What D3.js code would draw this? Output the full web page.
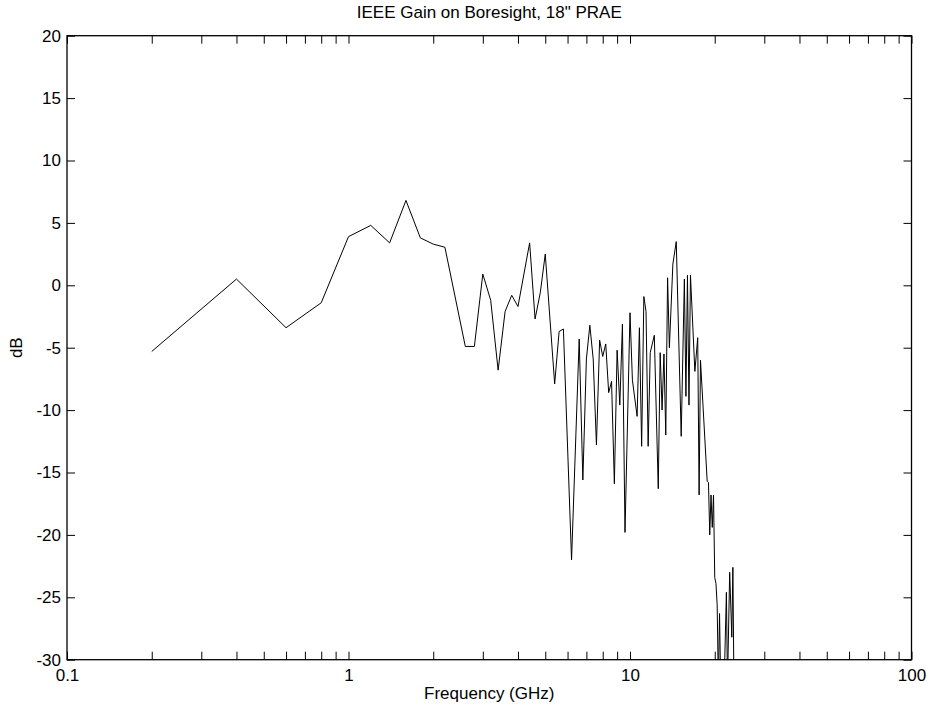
<!DOCTYPE html>
<html>
<head>
<meta charset="utf-8">
<script src="https://cdn.jsdelivr.net/npm/d3@7/dist/d3.min.js"></script>
<style>
  html, body { margin: 0; padding: 0; background: #fff; }
  svg { display: block; font-family: "Liberation Sans", Arial, Helvetica, sans-serif; }
</style>
</head>
<body>
<svg id="chart" width="931" height="715"></svg>
<script>
// Boresight gain measurement (frequency in GHz, gain in dB)
const freqGHz = [
  0.2, 0.4, 0.6, 0.8, 1.0, 1.2, 1.4, 1.6, 1.8, 2.0,
  2.2, 2.6, 2.8, 3.0, 3.2, 3.4, 3.6, 3.8, 4.0, 4.4,
  4.6, 4.8, 5.0, 5.4, 5.6, 5.8, 6.2, 6.6, 6.8, 7.0,
  7.2, 7.4, 7.6, 7.8, 8.0, 8.2, 8.4, 8.6, 8.8, 9.0,
  9.2, 9.4, 9.6, 10.0, 10.2, 10.6, 10.8, 11.0, 11.2, 11.4,
  11.6, 11.8, 12.2, 12.6, 12.8, 13.0, 13.2, 13.4, 13.6, 13.8,
  14.2, 14.6, 15.2, 15.6, 15.8, 16.0, 16.2, 16.4, 17.0, 17.4,
  17.6, 17.8, 18.8, 19.0, 19.2, 19.4, 19.6, 19.8, 20.0, 20.2,
  20.4, 20.6, 20.8, 21.0, 21.6, 22.0, 22.2, 22.6, 23.0, 23.2,
  23.4
];
const gainDb = [
  -5.3, 0.5, -3.4, -1.4, 3.9, 4.8, 3.4, 6.8, 3.8, 3.3,
  3.05, -4.9, -4.9, 0.9, -1.2, -6.8, -2.1, -0.8, -1.7, 3.4,
  -2.7, -0.6, 2.5, -7.9, -3.7, -3.5, -22.0, -4.3, -15.6, -5.9,
  -3.2, -5.9, -12.8, -4.4, -5.7, -4.7, -8.6, -7.7, -15.9, -5.2,
  -9.6, -3.1, -19.8, -2.2, -7.6, -10.5, -3.4, -12.9, -0.9, -2.1,
  -12.9, -5.4, -4.0, -16.3, -5.4, -10.0, -5.5, -12.0, 0.6, -5.0,
  1.7, 3.5, -12.1, 0.5, -8.9, 0.8, -9.6, 0.8, -6.9, -4.2,
  -16.8, -6.0, -15.7, -15.8, -20.0, -16.8, -19.4, -16.8, -23.4, -23.9,
  -25.6, -32.0, -26.3, -32.0, -32.0, -24.6, -32.0, -23.0, -28.2, -22.6,
  -32.0
];

// Axis definitions
const xDomain = [0.1, 100];
const yDomain = [-30, 20];
const yTickValues = [-30, -25, -20, -15, -10, -5, 0, 5, 10, 15, 20];
const xMajorTicks = [0.1, 1, 10, 100];
const xMajorLabels = ["0.1", "1", "10", "100"];

const titleText = "IEEE Gain on Boresight, 18\" PRAE";
const xLabelText = "Frequency (GHz)";
const yLabelText = "dB";

const W = 931, H = 715;
const margin = { top: 35.7, right: 19.5, bottom: 55.3, left: 67 };
const plotW = W - margin.left - margin.right;
const plotH = H - margin.top - margin.bottom;
const tickLen = 8;
const fontSize = 17;

const svg = d3.select("#chart");

const x = d3.scaleLog().domain(xDomain).range([0, plotW]);
const y = d3.scaleLinear().domain(yDomain).range([plotH, 0]);

const g = svg.append("g").attr("transform", `translate(${margin.left},${margin.top})`);

// every 1..9 multiple within each decade
const xAllTicks = [];
for (let dec = 0.1; dec < 100; dec *= 10) {
  for (let k = 1; k <= 9; k++) {
    const v = +(dec * k).toPrecision(3);
    if (v >= xDomain[0] && v <= xDomain[1]) xAllTicks.push(v);
  }
}
xAllTicks.push(100);

const fmtX = v => {
  const i = xMajorTicks.findIndex(t => Math.abs(t - v) < 1e-9);
  return i >= 0 ? xMajorLabels[i] : "";
};

// bottom axis: inward ticks, decade labels
const xAxisBottom = d3.axisBottom(x).tickValues(xAllTicks).tickFormat(fmtX)
  .tickSizeInner(-tickLen).tickSizeOuter(0).tickPadding(9);
const gxb = g.append("g").attr("transform", `translate(0,${plotH})`).call(xAxisBottom);

// top axis: inward ticks, no labels
const xAxisTop = d3.axisTop(x).tickValues(xAllTicks).tickFormat("")
  .tickSizeInner(-tickLen).tickSizeOuter(0);
const gxt = g.append("g").call(xAxisTop);

// left axis with labels
const yAxisLeft = d3.axisLeft(y).tickValues(yTickValues).tickFormat(d3.format("d"))
  .tickSizeInner(-tickLen).tickSizeOuter(0).tickPadding(6);
const gyl = g.append("g").call(yAxisLeft);

// right axis: ticks only
const yAxisRight = d3.axisRight(y).tickValues(yTickValues).tickFormat("")
  .tickSizeInner(-tickLen).tickSizeOuter(0);
const gyr = g.append("g").attr("transform", `translate(${plotW},0)`).call(yAxisRight);

[gxb, gxt, gyl, gyr].forEach(a => {
  a.select(".domain").remove();
  a.selectAll("line").attr("stroke", "#000").attr("stroke-width", 1);
  a.selectAll("text").attr("fill", "#000").attr("font-size", fontSize)
    .attr("font-family", "\"Liberation Sans\", Arial, sans-serif");
});
// '-' as plain hyphen in tick labels
gyl.selectAll("text").text(d => String(d));

// plot box
g.append("rect").attr("x", 0).attr("y", 0).attr("width", plotW).attr("height", plotH)
  .attr("fill", "none").attr("stroke", "#000").attr("stroke-width", 1.3);

// clip for the data line
g.append("clipPath").attr("id", "plotClip").append("rect")
  .attr("x", 0).attr("y", 0).attr("width", plotW).attr("height", plotH);

const series = freqGHz.map((f, i) => ({ f, v: gainDb[i] }));
const line = d3.line().x(d => x(d.f)).y(d => y(d.v));

g.append("path").datum(series)
  .attr("clip-path", "url(#plotClip)")
  .attr("d", line)
  .attr("fill", "none")
  .attr("stroke", "#000")
  .attr("stroke-width", 1)
  .attr("stroke-linejoin", "miter");

// title and axis labels
svg.append("text").attr("x", margin.left + plotW / 2).attr("y", 18)
  .attr("text-anchor", "middle").attr("font-size", fontSize).attr("fill", "#000")
  .text(titleText);

svg.append("text").attr("x", margin.left + plotW / 2).attr("y", 699)
  .attr("text-anchor", "middle").attr("font-size", fontSize).attr("fill", "#000")
  .text(xLabelText);

svg.append("text")
  .attr("transform", `translate(22,${margin.top + plotH / 2}) rotate(-90)`)
  .attr("text-anchor", "middle").attr("font-size", fontSize).attr("fill", "#000")
  .text(yLabelText);
</script>
</body>
</html>
